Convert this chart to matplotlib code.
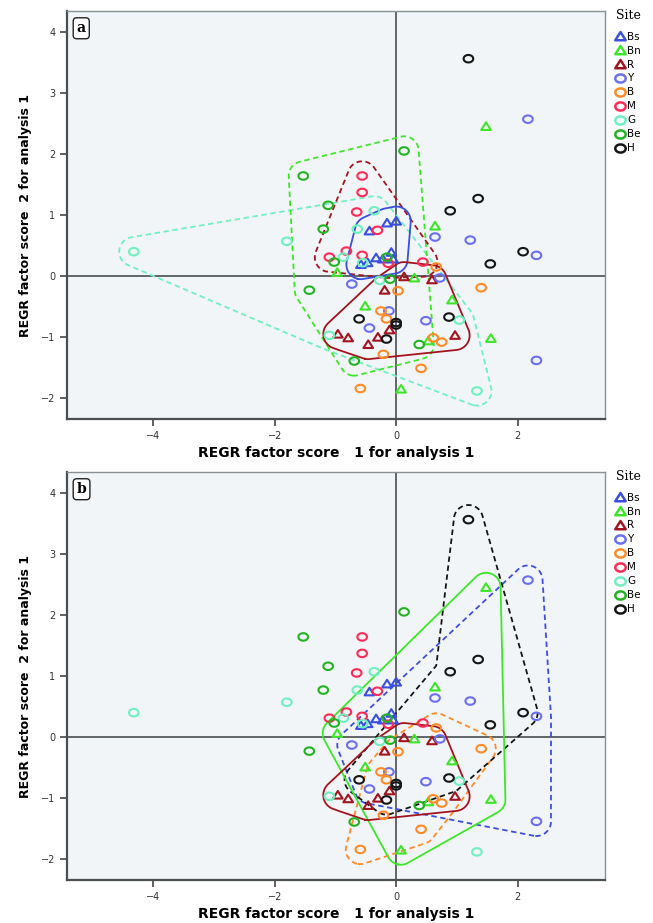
import numpy as np
import matplotlib
matplotlib.use("Agg")
import matplotlib.pyplot as plt
from matplotlib.lines import Line2D
from matplotlib.path import Path
import contourpy

# factor scores per site (x = score 1, y = score 2)
sites = ["Bs", "Bn", "R", "Y", "B", "M", "G", "Be", "H"]

Bs_x = [-0.15, 0.00, -0.44, -0.58, -0.47, -0.33, -0.22, -0.08, -0.05]
Bs_y = [0.87, 0.90, 0.74, 0.19, 0.22, 0.30, 0.28, 0.39, 0.28]
Bn_x = [1.48, 0.64, -0.97, 0.30, 0.92, -0.51, 1.56, 0.53, 0.08]
Bn_y = [2.45, 0.82, 0.06, -0.03, -0.39, -0.49, -1.02, -1.06, -1.85]
R_x = [0.13, 0.59, -0.19, -0.11, -0.96, -0.79, -0.30, -0.46, 0.97]
R_y = [-0.01, -0.06, -0.23, -0.88, -0.95, -1.01, -1.00, -1.12, -0.97]
Y_x = [2.17, 0.64, 1.22, 2.31, 0.72, -0.73, -0.12, 0.49, -0.44, 2.31]
Y_y = [2.57, 0.64, 0.59, 0.34, -0.03, -0.13, -0.57, -0.73, -0.85, -1.38]
B_x = [0.66, 0.03, 1.40, -0.25, -0.16, 0.61, 0.75, -0.21, 0.41, -0.59]
B_y = [0.15, -0.24, -0.19, -0.57, -0.70, -1.01, -1.08, -1.28, -1.51, -1.84]
M_x = [-0.56, -0.56, -0.65, -0.31, -0.82, -1.10, -0.56, 0.44, -0.13]
M_y = [1.64, 1.37, 1.05, 0.75, 0.41, 0.31, 0.34, 0.23, 0.21]
G_x = [-4.32, -1.80, -0.36, -0.64, -0.87, -0.55, -0.27, 1.04, -1.10, 1.33]
G_y = [0.40, 0.57, 1.07, 0.77, 0.31, 0.22, -0.07, -0.72, -0.97, -1.88]
Be_x = [-1.53, 0.13, -1.12, -1.20, -1.02, -0.15, -1.43, -0.10, 0.38, -0.69]
Be_y = [1.64, 2.05, 1.16, 0.77, 0.23, 0.31, -0.23, -0.05, -1.12, -1.39]
H_x = [1.19, 1.35, 0.89, 2.09, 1.55, -0.61, 0.87, 0.00, 0.00, -0.16]
H_y = [3.56, 1.27, 1.07, 0.40, 0.20, -0.70, -0.67, -0.76, -0.80, -1.03]

data = {
    "Bs": (Bs_x, Bs_y), "Bn": (Bn_x, Bn_y), "R": (R_x, R_y),
    "Y": (Y_x, Y_y), "B": (B_x, B_y), "M": (M_x, M_y),
    "G": (G_x, G_y), "Be": (Be_x, Be_y), "H": (H_x, H_y),
}

colors = {"Bs": "#3a4fe0", "Bn": "#3ee62a", "R": "#a3141f", "Y": "#6a6ff0",
          "B": "#ff8a26", "M": "#ff2a55", "G": "#6ff0c0", "Be": "#22b322",
          "H": "#151515"}

# outline order for the H group in panel b (it is not convex there)
H_outline = [0, 2, 5, 9, 6, 3]

# hulls drawn in each panel: (site, colour, linestyle, outline order)
hulls_a = [("G", "#6ff0c0", "dashed", None), ("Be", "#3ee62a", "dashed", None),
           ("M", "#a3141f", "dashed", None), ("Bs", "#3a4fe0", "solid", None),
           ("R", "#a3141f", "solid", None)]
hulls_b = [("Y", "#3a4fe0", "dashed", None), ("B", "#ff8a26", "dashed", None),
           ("H", "#151515", "dashed", H_outline), ("Bn", "#3ee62a", "solid", None),
           ("R", "#a3141f", "solid", None)]

# wide circle / wide triangle like the SPSS markers
t = np.linspace(0, 2*np.pi, 41)
ring = Path(np.column_stack([np.cos(t), 0.78*np.sin(t)]), closed=True)
tri = Path([(-1, -0.72), (1, -0.72), (0, 0.86), (-1, -0.72)], closed=True)
markers = {"Bs": tri, "Bn": tri, "R": tri}


def convex_hull(pts):
    pts = sorted(set(map(tuple, pts)))
    def cross(o, a, b):
        return (a[0]-o[0])*(b[1]-o[1]) - (a[1]-o[1])*(b[0]-o[0])
    lower, upper = [], []
    for p in pts:
        while len(lower) >= 2 and cross(lower[-2], lower[-1], p) <= 0:
            lower.pop()
        lower.append(p)
    for p in reversed(pts):
        while len(upper) >= 2 and cross(upper[-2], upper[-1], p) <= 0:
            upper.pop()
        upper.append(p)
    return np.array(lower[:-1] + upper[:-1])


gx, gy = np.meshgrid(np.arange(-5.6, 3.6, 0.012), np.arange(-2.6, 4.6, 0.012))
grid_pts = np.column_stack([gx.ravel(), gy.ravel()])


def outline(x, y, order=None, r=0.24):
    # polygon grown by radius r, taken as a level line of the distance field
    pts = np.column_stack([x, y])
    poly = pts[order] if order is not None else convex_hull(pts)
    d = np.full(len(grid_pts), np.inf)
    for i in range(len(poly)):
        a, b = poly[i], poly[(i+1) % len(poly)]
        ab = b - a
        tt = np.clip(((grid_pts - a) @ ab) / (ab @ ab), 0, 1)
        proj = a + tt[:, None]*ab
        d = np.minimum(d, np.hypot(*(grid_pts - proj).T))
    inside = Path(poly).contains_points(grid_pts)
    d[inside] = -d[inside]
    gen = contourpy.contour_generator(gx, gy, d.reshape(gx.shape))
    return gen.lines(r)


fig = plt.figure(figsize=(6.53, 9.23), dpi=100)
ax_a = fig.add_axes([0.1026, 0.546, 0.824, 0.442])
ax_b = fig.add_axes([0.1026, 0.0466, 0.824, 0.442])

for ax, hulls, letter in [(ax_a, hulls_a, "a"), (ax_b, hulls_b, "b")]:
    ax.set_facecolor("#f2f5f7")
    ax.axhline(0, color="#555b5e", lw=1.3, zorder=1)
    ax.axvline(0, color="#555b5e", lw=1.3, zorder=1)

    for s in sites:
        xs, ys = data[s]
        ax.scatter(xs, ys, s=48, marker=markers.get(s, ring), facecolors="none",
                   edgecolors=colors[s], linewidths=1.5, zorder=3)

    for s, c, ls, order in hulls:
        style = (0, (3, 2)) if ls == "dashed" else "-"
        for line in outline(*data[s], order=order):
            ax.plot(line[:, 0], line[:, 1], color=c, lw=1.3, linestyle=style, zorder=2)

    ax.set_xlim(-5.42, 3.44)
    ax.set_ylim(-2.34, 4.34)
    ax.set_xticks([-4, -2, 0, 2])
    ax.set_yticks([-2, -1, 0, 1, 2, 3, 4])
    ax.tick_params(labelsize=7, length=5, width=1.2, color="#444", labelcolor="#333")
    for side in ["left", "bottom"]:
        ax.spines[side].set_color("#4a4f52")
        ax.spines[side].set_linewidth(1.6)
    for side in ["top", "right"]:
        ax.spines[side].set_color("#8a9194")
        ax.spines[side].set_linewidth(1.0)

    ax.set_xlabel("REGR factor score   1 for analysis 1", fontsize=10,
                  fontweight="bold", labelpad=4)
    ax.set_ylabel("REGR factor score  2 for analysis 1", fontsize=9,
                  fontweight="bold", labelpad=6)

    ax.text(0.018, 0.975, letter, transform=ax.transAxes, fontsize=10,
            fontweight="bold", family="DejaVu Serif", va="top", ha="left",
            bbox=dict(boxstyle="round,pad=0.25", fc="white", ec="#222", lw=1.0))

    ax.text(1.02, 0.99, "Site", transform=ax.transAxes, fontsize=9,
            family="DejaVu Serif", va="center", ha="left")
    handles = [Line2D([], [], marker=markers.get(s, ring), linestyle="none",
                      markerfacecolor="none", markeredgecolor=colors[s],
                      markeredgewidth=1.8, markersize=7.5, label=s) for s in sites]
    ax.legend(handles=handles, loc="upper left", bbox_to_anchor=(1.005, 0.965),
              frameon=False, fontsize=7.5, handletextpad=0.15, labelspacing=0.38,
              borderaxespad=0.2, handlelength=1.1)

fig.savefig("out.png", dpi=100)
